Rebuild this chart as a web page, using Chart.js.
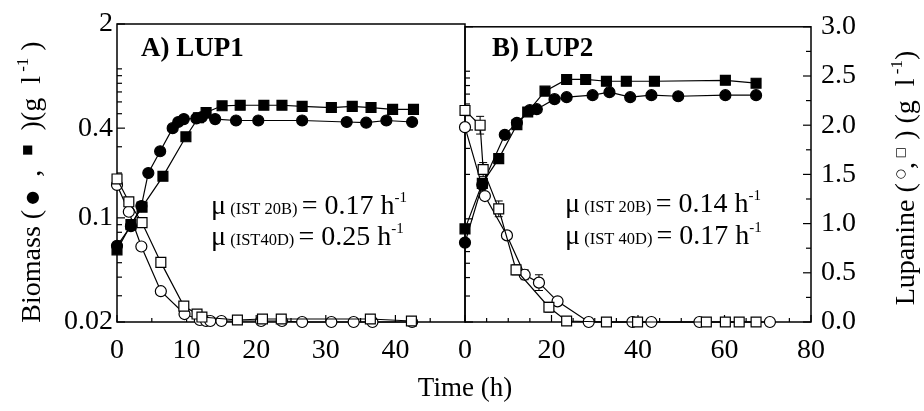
<!DOCTYPE html>
<html><head><meta charset="utf-8">
<script src="https://cdn.jsdelivr.net/npm/chart.js@4.4.0/dist/chart.umd.min.js"></script>
<style>
html,body{margin:0;padding:0;background:#fff;}
#wrap{position:relative;width:924px;height:411px;background:#fff;}
canvas{position:absolute;left:0;top:0;}
</style></head><body>
<div id="wrap"><canvas id="cA" width="924" height="411"></canvas><canvas id="cB" width="924" height="411"></canvas></div>
<script>
// ---------- DATA ----------
// Panel A) LUP1
const tA_bioCircle = [0, 2, 3.5, 4.5, 6.2, 8, 8.8, 9.6, 11.4, 12.2, 14.1, 17.1, 20.3, 26.6, 33, 35.8, 38.7, 42.4];
const A_bioCircle  = [0.065, 0.088, 0.12, 0.2, 0.28, 0.40, 0.44, 0.46, 0.465, 0.475, 0.46, 0.45, 0.45, 0.45, 0.44, 0.435, 0.45, 0.44];
const tA_bioSquare = [0, 2, 3.6, 6.6, 9.9, 11.7, 12.8, 15.1, 17.7, 21.1, 23.7, 26.6, 30.8, 33.8, 36.5, 39.6, 42.6];
const A_bioSquare  = [0.061, 0.09, 0.118, 0.19, 0.35, 0.47, 0.51, 0.565, 0.57, 0.57, 0.57, 0.56, 0.55, 0.56, 0.55, 0.535, 0.535];
const tA_lupCircle = [0, 1.7, 3.5, 6.3, 9.7, 11.9, 12.8, 13.4, 15, 20.7, 23.7, 26.6, 30.8, 34, 36.7, 42.4];
const A_lupCircle  = [1.38, 1.11, 0.76, 0.31, 0.08, 0.02, 0.01, 0.01, 0.01, 0.01, 0.01, 0.0, 0.0, 0.0, 0.0, 0.0];
const tA_lupSquare = [0, 1.7, 3.6, 6.3, 9.6, 11.5, 12.2, 17.3, 20.9, 23.6, 36.4, 42.3];
const A_lupSquare  = [1.44, 1.21, 1.0, 0.6, 0.16, 0.08, 0.05, 0.02, 0.03, 0.03, 0.03, 0.01];
// Panel B) LUP2
const tB_bioCircle = [0, 4, 9.2, 12, 15, 16.6, 20.7, 23.5, 29.5, 33.4, 38.2, 43.1, 49.3, 60.2, 67.3];
const B_bioCircle  = [0.069, 0.17, 0.371, 0.447, 0.545, 0.553, 0.647, 0.667, 0.688, 0.721, 0.667, 0.688, 0.677, 0.688, 0.688];
const tB_bioSquare = [0, 4, 7.8, 12, 14.5, 18.5, 23.5, 27.9, 32.7, 37.3, 43.8, 60.2, 67.3];
const B_bioSquare  = [0.0855, 0.174, 0.256, 0.434, 0.53, 0.733, 0.88, 0.88, 0.855, 0.855, 0.855, 0.868, 0.83];
const tB_lupCircle = [0, 4.6, 9.7, 13.8, 17.1, 21.4, 28.6, 38.7, 43.1, 54.2, 70.5];
const B_lupCircle  = [1.98, 1.28, 0.88, 0.48, 0.40, 0.21, 0.0, 0.0, 0.0, 0.0, 0.0];
const tB_lupSquare = [0, 3.5, 4.2, 7.8, 11.8, 19.4, 23.5, 32.7, 39.9, 55.8, 60.2, 63.4, 67.3];
const B_lupSquare  = [2.15, 2.0, 1.55, 1.15, 0.53, 0.15, 0.01, 0.0, 0.0, 0.0, 0.0, 0.0, 0.0];
// Error bars (lupanine, panel B): time, value, half-width
const tB_errSquare = [3.5, 4.2, 7.8, 11.8, 19.4];
const B_errSquareV = [2.0, 1.55, 1.15, 0.53, 0.15];
const B_errSquareE = [0.09, 0.07, 0.08, 0.05, 0.05];
const tB_errCircle = [17.1, 13.8];
const B_errCircleV = [0.40, 0.48];
const B_errCircleE = [0.08, 0.05];

// Ticks
const timeTicksA = [0, 10, 20, 30, 40];
const timeMinorA = [5, 15, 25, 35, 45];
const timeTicksB = [0, 20, 40, 60, 80];
const timeMinorB = [5, 10, 15, 25, 30, 35, 45, 50, 55, 65, 70, 75];
const bioTicks = [0.02, 0.1, 0.4, 2];
const bioTickLabels = ['0.02', '0.1', '0.4', '2'];
const bioMinor = [0.03, 0.04, 0.05, 0.06, 0.07, 0.08, 0.09, 0.2, 0.3, 0.5, 0.6, 0.7, 0.8, 0.9, 1];
const lupTicks = [0, 0.5, 1.0, 1.5, 2.0, 2.5, 3.0];
const lupMinor = [0.25, 0.75, 1.25, 1.75, 2.25, 2.75];

// ---------- HELPERS ----------
const SERIF = "'Liberation Serif','Times New Roman',serif";
const FS = 28;

function ds(xs, ys, axis, style, filled) {
  return {
    data: xs.map((x, i) => ({x: x, y: ys[i]})),
    yAxisID: axis, showLine: true, borderColor: '#000', borderWidth: 1.2,
    pointStyle: style, pointRadius: style === 'rect' ? 7 : 5.5,
    pointBackgroundColor: filled ? '#000' : '#fff', pointBorderColor: '#000',
    pointBorderWidth: 1.2, clip: false, tension: 0
  };
}

function drawRich(ctx, segs, x, y, align) {
  let total = 0;
  segs.forEach(s => { ctx.font = s.f; s.w = ctx.measureText(s.t).width; total += s.w; });
  let cx = align === 'center' ? x - total / 2 : x;
  ctx.textAlign = 'left';
  ctx.textBaseline = 'alphabetic';
  segs.forEach(s => { ctx.font = s.f; ctx.fillText(s.t, cx, y + (s.dy || 0)); cx += s.w; });
}
const F = (sz, bold) => (bold ? 'bold ' : '') + sz + 'px ' + SERIF;

function hLine(ctx, x1, y1, x2, y2) { ctx.beginPath(); ctx.moveTo(x1, y1); ctx.lineTo(x2, y2); ctx.stroke(); }

function muLine(ctx, strain, val, x, y) {
  drawRich(ctx, [{t: 'μ', f: F(28)}, {t: ' (' + strain + ') ', f: F(16.5)}, {t: '= ' + val + ' h', f: F(28)},
    {t: '-1', f: F(15), dy: -12}], x, y, 'left');
}

function errBars(ctx, xs, vs, es, sx, sy) {
  xs.forEach((t, i) => {
    const px = sx.getPixelForValue(t);
    const top = sy.getPixelForValue(vs[i] + es[i]);
    const bot = sy.getPixelForValue(vs[i] - es[i]);
    hLine(ctx, px, top, px, bot);
    hLine(ctx, px - 4, top, px + 4, top);
    hLine(ctx, px - 4, bot, px + 4, bot);
  });
}

const framePluginA = {
  id: 'frameA',
  beforeDatasetsDraw(chart) {
    const {ctx, chartArea: a, scales} = chart;
    ctx.save();
    ctx.strokeStyle = '#000'; ctx.lineWidth = 1.5;
    ctx.strokeRect(a.left, a.top, a.right - a.left, a.bottom - a.top);
    ctx.lineWidth = 1.2;
    timeTicksA.forEach(v => { const p = scales.x.getPixelForValue(v); hLine(ctx, p, a.bottom, p, a.bottom - 7); });
    timeMinorA.forEach(v => { const p = scales.x.getPixelForValue(v); hLine(ctx, p, a.bottom, p, a.bottom - 4); });
    bioTicks.forEach(v => { const p = scales.y.getPixelForValue(v); hLine(ctx, a.left, p, a.left + 8, p); });
    bioMinor.forEach(v => { const p = scales.y.getPixelForValue(v); hLine(ctx, a.left, p, a.left + 5, p); });
    ctx.restore();
  },
  afterDraw(chart) {
    const {ctx} = chart;
    ctx.save();
    ctx.fillStyle = '#000';
    drawRich(ctx, [{t: 'A) LUP1', f: F(27, true)}], 141, 56, 'left');
    muLine(ctx, 'IST 20B', '0.17', 211, 214);
    muLine(ctx, 'IST40D', '0.25', 211, 245);
    // Left axis title
    ctx.save();
    ctx.translate(40, 182);
    ctx.rotate(-Math.PI / 2);
    drawRich(ctx, [{t: 'Biomass (', f: F(28)}, {t: ' ●', f: '16px DejaVu Sans', dy: -3}, {t: '  ,  ', f: F(28)},
      {t: '■', f: '12px DejaVu Sans', dy: -9}, {t: '  )(g  l', f: F(28)}, {t: ' -1', f: F(17), dy: -12}, {t: ' )', f: F(28)}], 0, 0, 'center');
    ctx.restore();
    // Time label
    drawRich(ctx, [{t: 'Time (h)', f: F(27)}], 465, 396, 'center');
    ctx.restore();
  }
};

const framePluginB = {
  id: 'frameB',
  beforeDatasetsDraw(chart) {
    const {ctx, chartArea: a, scales} = chart;
    ctx.save();
    ctx.strokeStyle = '#000'; ctx.lineWidth = 1.5;
    ctx.strokeRect(a.left, a.top, a.right - a.left, a.bottom - a.top);
    ctx.lineWidth = 1.2;
    timeTicksB.forEach(v => { const p = scales.x.getPixelForValue(v); hLine(ctx, p, a.bottom, p, a.bottom - 7); });
    timeMinorB.forEach(v => { const p = scales.x.getPixelForValue(v); hLine(ctx, p, a.bottom, p, a.bottom - 4); });
    bioTicks.forEach(v => { const p = scales.y.getPixelForValue(v); hLine(ctx, a.left, p, a.left + 8, p); });
    bioMinor.forEach(v => { const p = scales.y.getPixelForValue(v); hLine(ctx, a.left, p, a.left + 5, p); });
    lupTicks.forEach(v => { const p = scales.y2.getPixelForValue(v); hLine(ctx, a.right, p, a.right - 8, p); });
    lupMinor.forEach(v => { const p = scales.y2.getPixelForValue(v); hLine(ctx, a.right, p, a.right - 5, p); });
    ctx.lineWidth = 1;
    errBars(ctx, tB_errSquare, B_errSquareV, B_errSquareE, scales.x, scales.y2);
    errBars(ctx, tB_errCircle, B_errCircleV, B_errCircleE, scales.x, scales.y2);
    ctx.restore();
  },
  afterDraw(chart) {
    const {ctx} = chart;
    ctx.save();
    ctx.fillStyle = '#000';
    drawRich(ctx, [{t: 'B) LUP2', f: F(27, true)}], 492, 56, 'left');
    muLine(ctx, 'IST 20B', '0.14', 565, 212);
    muLine(ctx, 'IST 40D', '0.17', 565, 244);
    ctx.save();
    ctx.translate(914, 178);
    ctx.rotate(-Math.PI / 2);
    drawRich(ctx, [{t: 'Lupanine (', f: F(28)}, {t: ' ○', f: '12px DejaVu Sans', dy: -10}, {t: ',', f: F(28)},
      {t: ' □', f: '12px DejaVu Sans', dy: -10}, {t: ' ) (g  l', f: F(28)}, {t: ' -1', f: F(17), dy: -12}, {t: ')', f: F(28)}], 0, 0, 'center');
    ctx.restore();
    ctx.restore();
  }
};

const tickFont = {family: SERIF, size: FS};

new Chart(document.getElementById('cA'), {
  type: 'scatter',
  data: {datasets: [
    ds(tA_lupSquare, A_lupSquare, 'y2', 'rect', false),
    ds(tA_lupCircle, A_lupCircle, 'y2', 'circle', false),
    ds(tA_bioSquare, A_bioSquare, 'y', 'rect', true),
    ds(tA_bioCircle, A_bioCircle, 'y', 'circle', true)
  ]},
  options: {
    responsive: false, animation: false, events: [],
    layout: {padding: {left: 0, right: 924 - 465, top: 24, bottom: 0}},
    plugins: {legend: {display: false}, tooltip: {enabled: false}},
    scales: {
      x: {type: 'linear', min: 0, max: 50, position: 'bottom',
        afterBuildTicks: s => { s.ticks = timeTicksA.map(v => ({value: v})); },
        afterFit: s => { s.height = 411 - 322; },
        grid: {display: false, drawTicks: false}, border: {display: false},
        ticks: {font: tickFont, color: '#000', padding: 12, maxRotation: 0, autoSkip: false}},
      y: {type: 'logarithmic', position: 'left', min: 0.02, max: 2,
        afterBuildTicks: s => { s.ticks = bioTicks.map(v => ({value: v})); },
        afterFit: s => { s.width = 117; },
        grid: {display: false, drawTicks: false}, border: {display: false},
        ticks: {font: tickFont, color: '#000', padding: 4, autoSkip: false,
          callback: (v, i) => bioTickLabels[i]}},
      y2: {type: 'linear', position: 'right', min: 0, max: 3, display: false}
    }
  },
  plugins: [framePluginA]
});

new Chart(document.getElementById('cB'), {
  type: 'scatter',
  data: {datasets: [
    ds(tB_lupSquare, B_lupSquare, 'y2', 'rect', false),
    ds(tB_lupCircle, B_lupCircle, 'y2', 'circle', false),
    ds(tB_bioSquare, B_bioSquare, 'y', 'rect', true),
    ds(tB_bioCircle, B_bioCircle, 'y', 'circle', true)
  ]},
  options: {
    responsive: false, animation: false, events: [],
    layout: {padding: {left: 465, right: 0, top: 24, bottom: 0}},
    plugins: {legend: {display: false}, tooltip: {enabled: false}},
    scales: {
      x: {type: 'linear', min: 0, max: 80, position: 'bottom',
        afterBuildTicks: s => { s.ticks = timeTicksB.map(v => ({value: v})); },
        afterFit: s => { s.height = 411 - 322; },
        grid: {display: false, drawTicks: false}, border: {display: false},
        ticks: {font: tickFont, color: '#000', padding: 12, maxRotation: 0, autoSkip: false}},
      y: {type: 'logarithmic', position: 'left', min: 0.02, max: 2, display: false},
      y2: {type: 'linear', position: 'right', min: 0, max: 3,
        afterBuildTicks: s => { s.ticks = lupTicks.map(v => ({value: v})); },
        afterFit: s => { s.width = 924 - 811; },
        grid: {display: false, drawTicks: false}, border: {display: false},
        ticks: {font: tickFont, color: '#000', padding: 10, autoSkip: false,
          callback: v => v.toFixed(1)}}
    }
  },
  plugins: [framePluginB]
});
</script>
</body></html>
